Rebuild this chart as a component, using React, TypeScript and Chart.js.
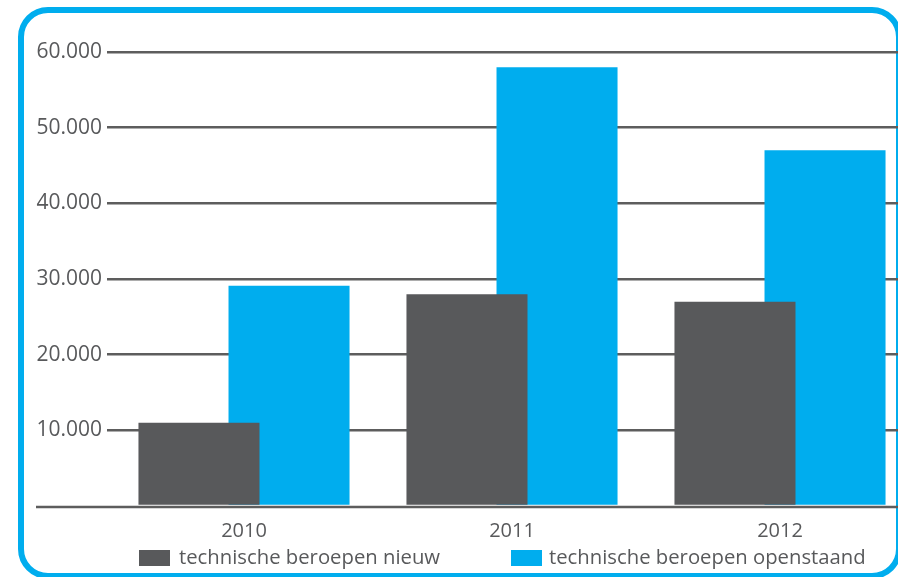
import React, { useEffect, useRef } from "react";
import { Chart, registerables } from "chart.js";

Chart.register(...registerables);

const categories = ["2010", "2011", "2012"];
const seriesNames = ["technische beroepen nieuw", "technische beroepen openstaand"];
const nieuw = [11000, 28000, 27000];
const openstaand = [29100, 58000, 47000];
const yTickLabels = ["", "10.000", "20.000", "30.000", "40.000", "50.000", "60.000"];
const colors = ["#58595B", "#00ADEE"];

const FONT = "'Open Sans', 'Noto Sans', sans-serif";
const TEXT = "#58595B";
const GRID = "#5d5d5d";

const baselinePlugin = {
  id: "baseline",
  afterDatasetsDraw(chart: any) {
    const y = chart.scales.y.getPixelForValue(0);
    const ctx = chart.ctx;
    ctx.save();
    ctx.strokeStyle = GRID;
    ctx.lineWidth = 2.5;
    ctx.beginPath();
    ctx.moveTo(36, y + 1);
    ctx.lineTo(chart.width, y + 1);
    ctx.stroke();
    ctx.restore();
  },
};

export default function App() {
  const ref = useRef<HTMLCanvasElement | null>(null);

  useEffect(() => {
    if (!ref.current) return;
    const chart = new Chart(ref.current, {
      type: "bar",
      data: {
        labels: categories,
        datasets: [
          {
            label: seriesNames[0],
            data: nieuw,
            backgroundColor: colors[0],
            borderWidth: 0,
            categoryPercentage: 0.672,
            barPercentage: 1.344,
          },
          {
            label: seriesNames[1],
            data: openstaand,
            backgroundColor: colors[1],
            borderWidth: 0,
            categoryPercentage: 0.672,
            barPercentage: 1.344,
          },
        ],
      },
      options: {
        animation: false,
        responsive: false,
        maintainAspectRatio: false,
        layout: { padding: { left: 0, top: 52, right: 0, bottom: 0 } },
        plugins: {
          legend: { display: false },
          tooltip: { enabled: false },
        },
        scales: {
          x: {
            grid: { display: false },
            border: { display: false },
            ticks: {
              color: TEXT,
              font: { family: FONT, size: 20 },
              padding: 5,
            },
            afterFit: (s: any) => {
              s.height = 71;
            },
          },
          y: {
            min: 0,
            max: 60000,
            border: { display: false },
            grid: {
              color: (c: any) => (c.tick && c.tick.value === 0 ? "rgba(0,0,0,0)" : GRID),
              lineWidth: 2.5,
              drawTicks: true,
              tickLength: 3,
            },
            ticks: {
              stepSize: 10000,
              color: TEXT,
              font: { family: FONT, size: 21 },
              padding: 5,
              callback: (_v: any, i: number) => yTickLabels[i],
            },
            afterFit: (s: any) => {
              s.width = 110;
            },
          },
        },
      },
      plugins: [baselinePlugin],
    });
    return () => chart.destroy();
  }, []);

  const legendItems = [
    { left: 139, textLeft: 179 },
    { left: 511, textLeft: 549 },
  ];

  return (
    <div
      style={{
        position: "fixed",
        left: 0,
        top: 0,
        width: 898,
        height: 577,
        overflow: "hidden",
        background: "#ffffff",
      }}
    >
      <div
        style={{
          position: "absolute",
          left: 18,
          top: 7,
          width: 884,
          height: 572,
          border: "6px solid #00ADEE",
          borderRadius: 30,
          boxSizing: "border-box",
        }}
      />
      <canvas
        ref={ref}
        width={914}
        height={577}
        style={{ position: "absolute", left: 0, top: 0, width: 914, height: 577 }}
      />
      {seriesNames.map((name, i) => (
        <div key={name}>
          <div
            style={{
              position: "absolute",
              left: legendItems[i].left,
              top: 550,
              width: 31,
              height: 16,
              background: colors[i],
            }}
          />
          <div
            style={{
              position: "absolute",
              left: legendItems[i].textLeft,
              top: 543,
              fontFamily: FONT,
              fontSize: 20.3,
              lineHeight: "26px",
              color: TEXT,
              whiteSpace: "nowrap",
            }}
          >
            {name}
          </div>
        </div>
      ))}
    </div>
  );
}
